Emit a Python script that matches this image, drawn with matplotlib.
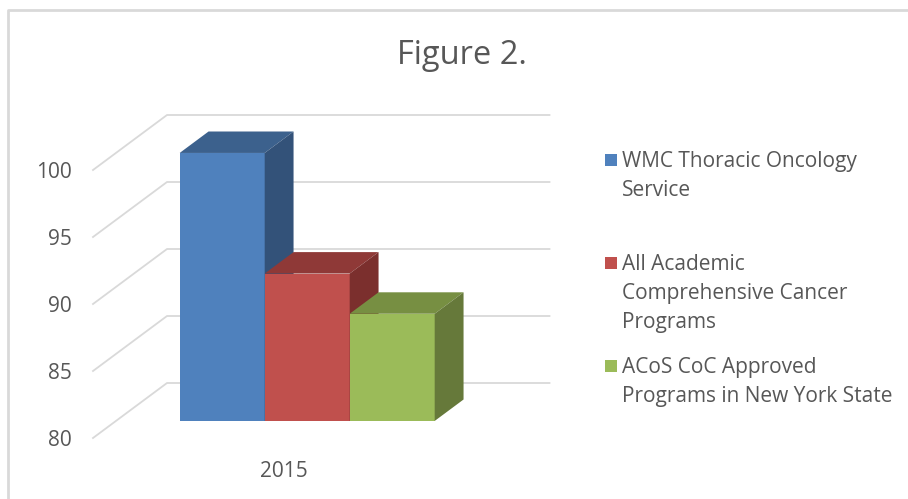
import matplotlib
matplotlib.use("Agg")
import matplotlib.pyplot as plt
from matplotlib.patches import Polygon, Rectangle
from matplotlib.lines import Line2D

# ---- data ----
categories = ["2015"]
series_names = ["WMC Thoracic Oncology\nService",
                "All Academic\nComprehensive Cancer\nPrograms",
                "ACoS CoC Approved\nPrograms in New York State"]
values = [100, 91, 88]
yticks = [80, 85, 90, 95, 100]
title = "Figure 2."

front_colors = ["#4F81BD", "#C0504D", "#9BBB59"]
top_colors = ["#3C618D", "#8F3937", "#778F42"]
side_colors = ["#335279", "#7B2F2D", "#66793A"]

plt.rcParams['font.family'] = ['Open Sans', 'DejaVu Sans']
TXT = "#575757"
GRID = "#D9D9D9"

W, H = 908, 499
fig = plt.figure(figsize=(W / 100, H / 100), dpi=100)
ax = fig.add_axes([0, 0, 1, 1])
ax.set_axis_off()

# coordinate system: x in bar widths (85 px), y in value units (13.4 px/unit)
PX_X = 85.0
PX_Y = 13.4
X0_PX = 93.0       # left front floor corner
Y80_PX = 438.0     # front position of the 80 line
ax.set_xlim(-X0_PX / PX_X, (W - X0_PX) / PX_X)
ax.set_ylim(80 - (H - Y80_PX) / PX_Y, 80 + Y80_PX / PX_Y)

DX = 74 / PX_X       # full depth offset
DY = 55 / PX_Y
FLOOR_W = 4.5
base = yticks[0]

# gridlines on left wall and back wall
for v in yticks:
    ax.add_line(Line2D([0, DX, FLOOR_W + DX], [v, v + DY, v + DY],
                       color=GRID, lw=1.3, zorder=1))
    ax.text(-21 / PX_X, v, str(v), ha='right', va='center_baseline',
            fontsize=15, color=TXT)

# bars
t1, t2 = 0.31, 0.70
n = len(values)
start = (FLOOR_W - n) / 2
for i, v in enumerate(values):
    x0 = start + i + t1 * DX
    x1 = x0 + 1
    yb = base + t1 * DY
    yt = v + t1 * DY
    ddx = (t2 - t1) * DX
    ddy = (t2 - t1) * DY
    ax.add_patch(Polygon([(x0, yb), (x1, yb), (x1, yt), (x0, yt)],
                         closed=True, fc=front_colors[i], ec='none', zorder=3))
    ax.add_patch(Polygon([(x0, yt), (x1, yt), (x1 + ddx, yt + ddy), (x0 + ddx, yt + ddy)],
                         closed=True, fc=top_colors[i], ec='none', zorder=3))
    ax.add_patch(Polygon([(x1, yb), (x1 + ddx, yb + ddy), (x1 + ddx, yt + ddy), (x1, yt)],
                         closed=True, fc=side_colors[i], ec='none', zorder=3))

# category label
ax.text(FLOOR_W / 2, base - 31 / PX_Y, categories[0], ha='center', va='center_baseline',
        fontsize=15, color=TXT)

# title
fig.text(462 / W, 1 - 63.5 / H, title, ha='center', va='baseline',
         fontsize=23.5, color=TXT)

# legend
leg_base = [167, 269.5, 373]
LINE = 29.3
for i, name in enumerate(series_names):
    fig.patches.append(Rectangle((605 / W, 1 - (leg_base[i] - 1) / H), 12 / W, 12 / H,
                                 transform=fig.transFigure, fc=front_colors[i],
                                 ec='none'))
    for k, line in enumerate(name.split("\n")):
        fig.text(622 / W, 1 - (leg_base[i] + k * LINE) / H, line, ha='left',
                 va='baseline', fontsize=15, color=TXT)

# chart border (top and left visible)
fig.add_artist(Line2D([8 / W, 8 / W, 1], [0, 1 - 10 / H, 1 - 10 / H],
                      transform=fig.transFigure, color=GRID, lw=2))

fig.savefig("out.png", dpi=100)
